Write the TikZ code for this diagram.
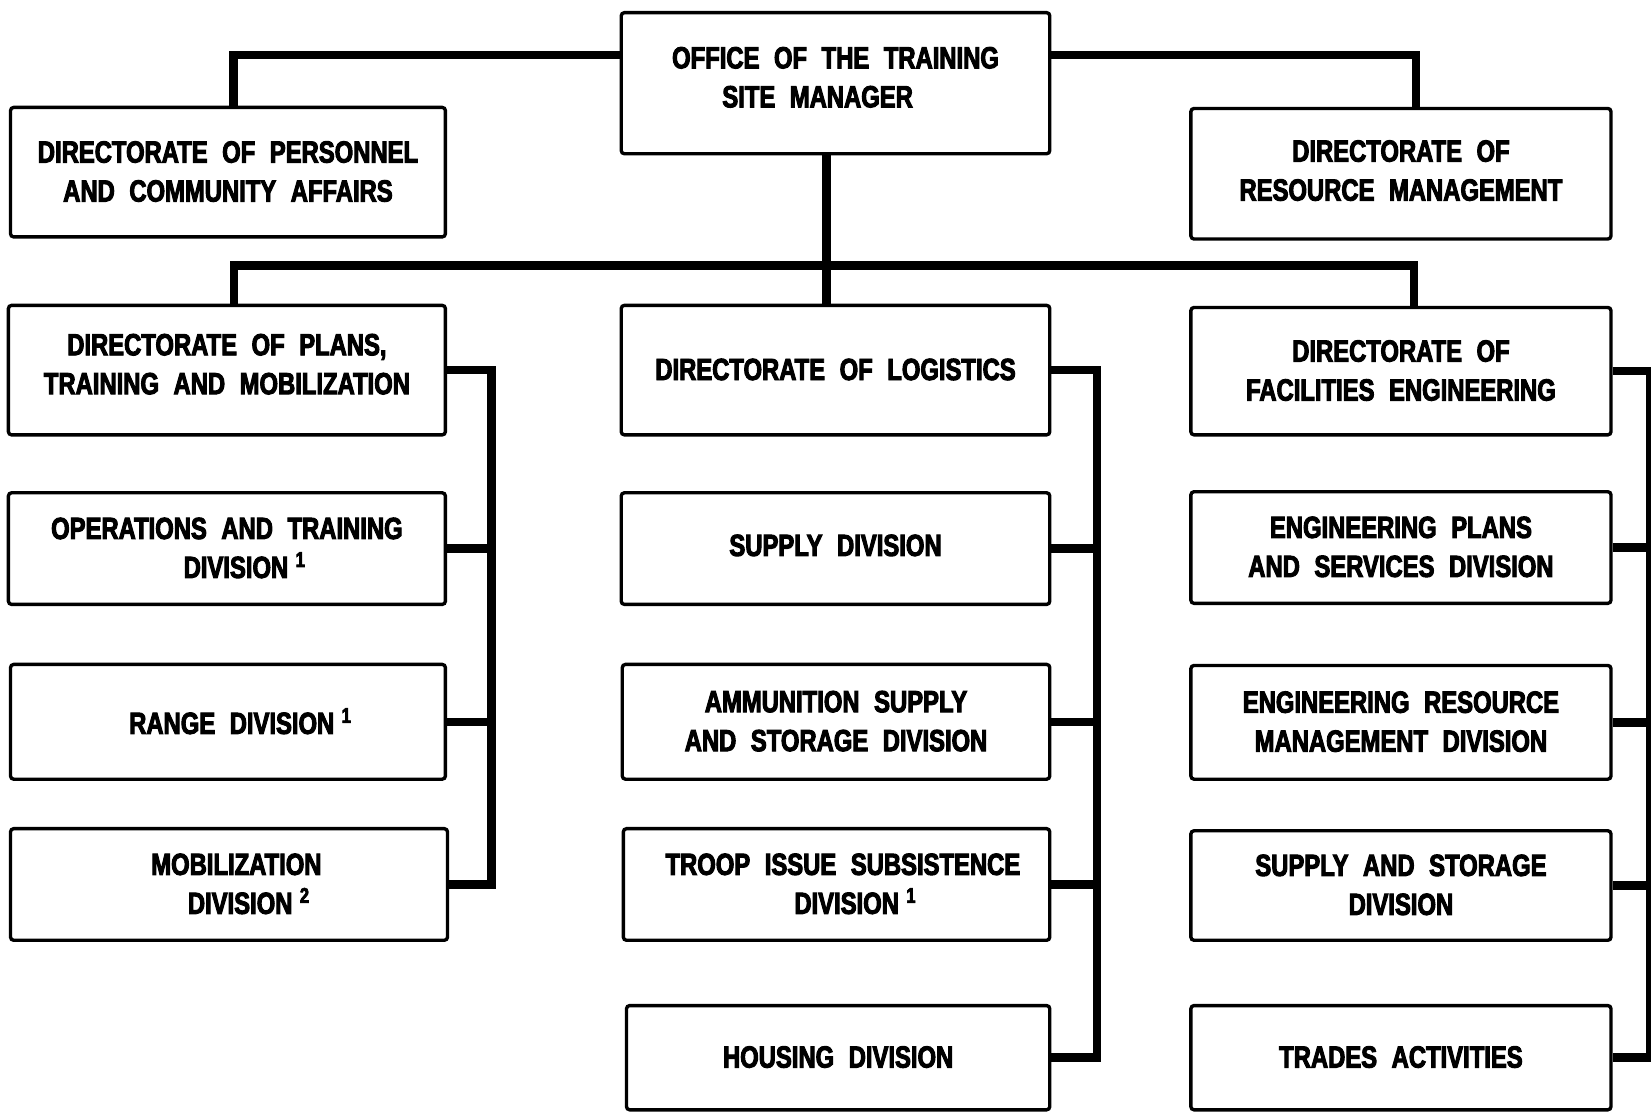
\documentclass[tikz,border=0pt]{standalone}
\usepackage{fontspec}
\setmainfont{Liberation Sans}[FakeStretch=0.78, WordSpace=2.2, BoldFeatures={FakeBold=3.2}]
\usetikzlibrary{fit,calc}

\tikzset{
  box/.style={draw, line width=1.6pt, rounded corners=1.5pt, fill=white, inner sep=0pt},
  boxtext/.style={inner sep=0pt, align=center,
    font=\bfseries\fontsize{14.5}{18.5}\selectfont},
  conn/.style={line width=4pt, line join=miter, line cap=butt},
}
\newcommand{\fn}[1]{\hspace{3.5pt}\textsuperscript{#1}}
% \orgbox[label lift]{name}{corner}{corner}{label}: framed box with its centred label
\newcommand{\orgbox}[5][0.3pt]{%
  \node[box, fit={#3 #4}] (#2) {};
  \node[boxtext] (#2-t) at ([yshift=#1]#2.center) {#5};}

\begin{document}
\begin{tikzpicture}[x=0.5pt, y=-0.5pt]
\useasboundingbox (0,0) rectangle (1568,1057);
\fill[white] (0,0) rectangle (1568,1057);

% head office and its staff directorates
\orgbox[2.8pt]{top}{(590,12)}{(997,146)}{OFFICE OF THE TRAINING\\SITE MANAGER\hspace*{17pt}}
\orgbox{pers}{(10,102)}{(423,225)}{DIRECTORATE OF PERSONNEL\\AND COMMUNITY AFFAIRS}
\orgbox[1.5pt]{res}{(1131,103)}{(1530,227)}{DIRECTORATE OF\\RESOURCE MANAGEMENT}

% line directorates
\orgbox[2.8pt]{plans}{(8,290)}{(423,413)}{DIRECTORATE OF PLANS,\\TRAINING AND MOBILIZATION}
\orgbox{log}{(590,290)}{(997,413)}{DIRECTORATE OF LOGISTICS}
\orgbox{fac}{(1131,292)}{(1530,413)}{DIRECTORATE OF\\FACILITIES ENGINEERING}

% plans, training and mobilization divisions
\orgbox{ops}{(8,468)}{(423,574)}{OPERATIONS AND TRAINING\\\hspace*{17pt}DIVISION\fn{1}}
\orgbox{range}{(10,631)}{(423,740)}{\hspace*{12pt}RANGE DIVISION\fn{1}}
\orgbox{mob}{(10,787)}{(425,893)}{\hspace*{7pt}MOBILIZATION\\\hspace*{19pt}DIVISION\fn{2}}

% logistics divisions
\orgbox[1.5pt]{sup}{(590,468)}{(997,574)}{SUPPLY DIVISION}
\orgbox{ammo}{(591,631)}{(997,740)}{AMMUNITION SUPPLY\\AND STORAGE DIVISION}
\orgbox{troop}{(592,787)}{(997,893)}{\hspace*{6pt}TROOP ISSUE SUBSISTENCE\\\hspace*{18pt}DIVISION\fn{1}}
\orgbox{housing}{(595,955)}{(997,1054)}{HOUSING DIVISION}

% facilities engineering divisions
\orgbox{eplans}{(1131,467)}{(1530,573)}{ENGINEERING PLANS\\AND SERVICES DIVISION}
\orgbox{eres}{(1131,632)}{(1530,740)}{ENGINEERING RESOURCE\\MANAGEMENT DIVISION}
\orgbox{sas}{(1131,789)}{(1530,893)}{SUPPLY AND STORAGE\\DIVISION}
\orgbox{trades}{(1131,955)}{(1530,1054)}{TRADES ACTIVITIES}

% attachment points on the boxes
\coordinate (topS)  at ($(top.south west)!0.479!(top.south east)$);
\coordinate (logN)  at ($(log.north west)!0.479!(log.north east)$);
\coordinate (hub)   at ($(topS)!0.743!(logN)$);
\coordinate (topW)  at ($(top.north west)!0.306!(top.south west)$);
\coordinate (topE)  at ($(top.north east)!0.306!(top.south east)$);
\coordinate (persN) at ($(pers.north west)!0.513!(pers.north east)$);
\coordinate (resN)  at ($(res.north west)!0.535!(res.north east)$);
\coordinate (plansN) at ($(plans.north west)!0.516!(plans.north east)$);
\coordinate (facN)  at ($(fac.north west)!0.531!(fac.north east)$);

% upper connectors
\draw[conn] (topW) -| (persN);
\draw[conn] (topE) -| (resN);
\draw[conn] (topS) -- (logN);
\draw[conn] (plansN) |- (hub) -| (facN);

% division buses
\draw[conn] (plans.east) -- ++(42,0) |- (mob.east);
\foreach \n in {ops,range} \draw[conn] (\n.east) -- ++(42,0);

\draw[conn] (log.east) -- ++(43,0) |- (housing.east);
\foreach \n in {sup,ammo,troop} \draw[conn] (\n.east) -- ++(43,0);

\draw[conn] (fac.east) -- ++(36,0) |- (trades.east);
\foreach \n in {eplans,eres,sas} \draw[conn] (\n.east) -- ++(36,0);
\end{tikzpicture}
\end{document}
